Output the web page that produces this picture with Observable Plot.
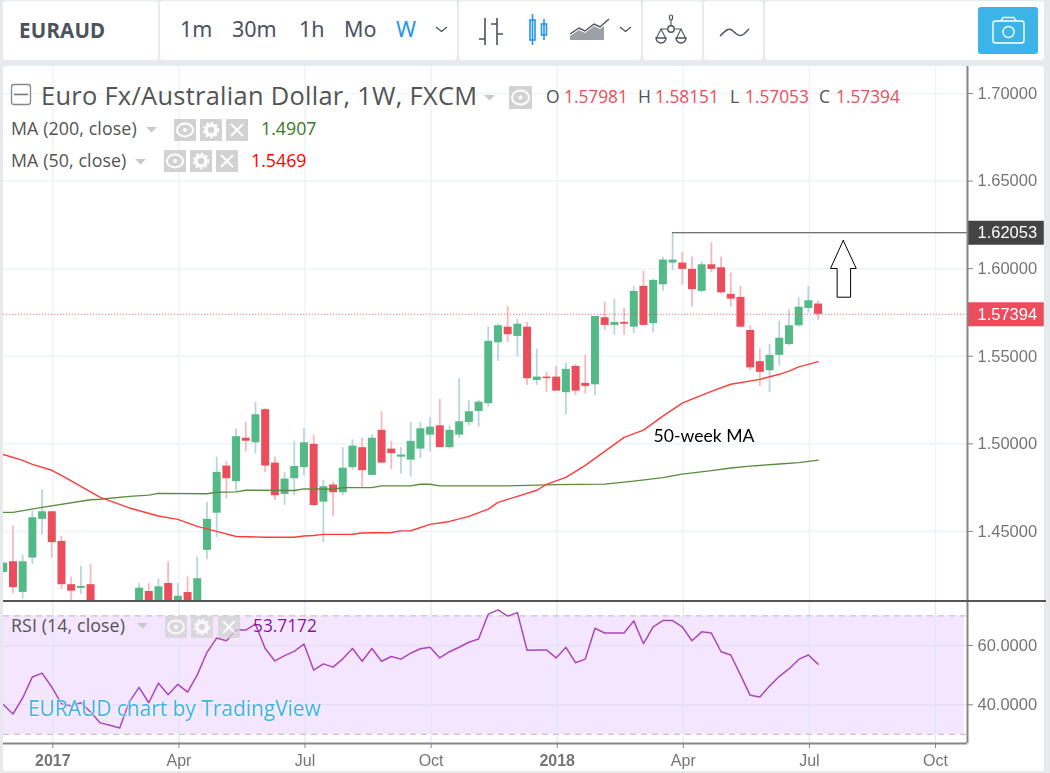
<!DOCTYPE html>
<html><head><meta charset="utf-8">
<script src="https://cdn.jsdelivr.net/npm/d3@7"></script>
<script src="https://cdn.jsdelivr.net/npm/@observablehq/plot@0.6"></script>
<style>
html,body{margin:0;padding:0;width:1050px;height:773px;overflow:hidden;background:#e6eaed}
#page{position:relative;width:1050px;height:773px;font-family:"Open Sans",sans-serif;overflow:hidden}
.panel{position:absolute;background:#fff;border-radius:3px}
.t{position:absolute;white-space:nowrap;line-height:1}
.box{position:absolute;background:#d2d2d2}
.plot{position:absolute;left:0}
#page svg{display:block}
.ic{position:absolute;overflow:visible}
.blur{filter:blur(0.35px)}
</style></head><body>
<div id="page"></div>
<script>
// ---- values ----
const candleWeeks = [-5,-4,-3,-2,-1,0,1,2,3,4,9,10,11,12,13,14,15,16,17,18,19,20,21,22,23,24,25,26,27,28,29,30,31,32,33,34,35,36,37,38,39,40,41,42,43,44,45,46,47,48,49,50,51,52,53,54,55,56,57,58,59,60,61,62,63,64,65,66,67,68,69,70,71,72,73,74,75,76,77,78,79];
const opens = [1.4266,1.4327,1.4152,1.4348,1.4569,1.4612,1.4443,1.4196,1.4175,1.4196,
 1.4060,1.4157,1.4060,1.4203,1.4070,1.4151,1.4050,1.4392,1.4604,1.4873,1.4784,1.5032,1.5006,1.5195,1.4890,1.4711,1.4801,1.4864,1.4997,1.4667,
 1.4765,1.4721,1.4864,1.4978,1.4820,1.5077,1.4970,1.4924,1.4907,1.4970,1.5050,1.5103,1.4978,1.5050,1.5122,1.5185,1.5229,1.5577,1.5666,1.5613,
 1.5666,1.5362,1.5381,1.5381,1.5292,1.5442,1.5345,1.5337,1.5720,1.5676,1.5693,1.5666,1.5899,1.5686,1.5908,1.6032,1.6032,1.5996,1.5870,1.6022,
 1.6005,1.5853,1.5836,1.5647,1.5469,1.5417,1.5505,1.5567,1.5674,1.5773,1.57981];
const closes = [1.4319,1.4179,1.4327,1.4578,1.4612,1.4436,1.4196,1.4159,1.4186,1.4049,
 1.4176,1.4050,1.4184,1.4060,1.4130,1.4060,1.4230,1.4569,1.4837,1.4801,1.5041,1.5015,1.5166,1.4873,1.4704,1.4799,1.4871,1.5006,1.4648,1.4755,
 1.4721,1.4861,1.4987,1.4847,1.5032,1.4890,1.4944,1.4936,1.5014,1.5086,1.5095,1.4979,1.5077,1.5126,1.5183,1.5238,1.5585,1.5674,1.5623,1.5683,
 1.5372,1.5381,1.5372,1.5301,1.5425,1.5301,1.5328,1.5727,1.5676,1.5693,1.5683,1.5870,1.5676,1.5933,1.6049,1.6049,1.5996,1.5880,1.6022,1.5996,
 1.5862,1.5826,1.5666,1.5434,1.5408,1.5505,1.5603,1.5674,1.5780,1.5817,1.57394];
const highs = [1.4325,1.4533,1.4365,1.4616,1.4738,1.4615,1.4471,1.4239,1.4300,1.4312,
 1.4203,1.4203,1.4230,1.4327,1.4203,1.4239,1.4353,1.4667,1.4924,1.4900,1.5086,1.5122,1.5238,1.5202,1.4924,1.4835,1.5014,1.5086,1.5050,1.4791,
 1.4782,1.4978,1.5023,1.5032,1.5050,1.5183,1.5014,1.4978,1.5122,1.5122,1.5149,1.5253,1.5103,1.5373,1.5246,1.5248,1.5666,1.5686,1.5784,1.5710,
 1.5693,1.5541,1.5408,1.5442,1.5461,1.5452,1.5506,1.5727,1.5809,1.5826,1.5773,1.5899,1.5986,1.5939,1.6066,1.62053,1.6093,1.6066,1.6040,1.6148,
 1.6066,1.5975,1.5899,1.5674,1.5541,1.5567,1.5700,1.5765,1.5834,1.5899,1.58151];
const lows = [1.4260,1.4144,1.4114,1.4312,1.4479,1.4348,1.4167,1.4078,1.4141,1.4020,
 1.4030,1.4020,1.4040,1.4040,1.4050,1.4040,1.4030,1.4338,1.4464,1.4684,1.4730,1.4953,1.4944,1.4835,1.4677,1.4648,1.4704,1.4818,1.4645,1.4436,
 1.4587,1.4704,1.4847,1.4747,1.4817,1.4888,1.4853,1.4827,1.4810,1.4917,1.4953,1.4976,1.4970,1.5032,1.5103,1.5095,1.5210,1.5470,1.5577,1.5495,
 1.5333,1.5333,1.5293,1.5299,1.5166,1.5275,1.5284,1.5275,1.5647,1.5621,1.5621,1.5630,1.5673,1.5632,1.5872,1.5990,1.5906,1.5781,1.5862,1.5977,
 1.5853,1.5781,1.5664,1.5417,1.5328,1.5292,1.5444,1.5558,1.5666,1.5746,1.57053];

const ma50Weeks = [-5,-3,-2,0,1,3,5,8,11,13,15,17,19,22,25,26,27,28,31,32,35,36,37,39,41,43,45,46,48,50,51,53,55,57,59,61,63,65,66,68,70,73,75,76,77,78,79];
const ma50 = [1.4939,1.4906,1.4883,1.4849,1.4820,1.4757,1.4694,1.4634,1.4588,1.4569,1.4529,1.4500,1.4471,1.4467,1.4467,1.4474,1.4477,1.4483,1.4484,1.4491,1.4494,1.4503,1.4504,1.4540,1.4557,1.4586,1.4627,1.4666,1.4700,1.4735,1.4769,1.4809,1.4877,1.4957,1.5037,1.5078,1.5158,1.5232,1.5255,1.5300,1.5340,1.5368,1.5397,1.5415,1.5439,1.5454,1.5469];
const ma200Weeks = [-5,-4,-1,4,5,8,10,11,16,17,19,20,25,26,29,30,33,34,37,38,39,40,47,52,57,60,63,65,68,70,72,75,77,79];
const ma200 = [1.4609,1.4609,1.4637,1.4681,1.4684,1.4700,1.4707,1.4717,1.4715,1.4724,1.4726,1.4735,1.4734,1.4743,1.4741,1.4750,1.4750,1.4760,1.4760,1.4769,1.4769,1.4760,1.4760,1.4767,1.4770,1.4787,1.4807,1.4827,1.4847,1.4862,1.4873,1.4885,1.4893,1.4907];

const rsiFirstWeek = -5;
const rsi = [40.1,36.9,42.3,49.4,50.7,46.0,40.4,39.6,40.7,37.6,33.9,33.1,32.2,41.0,45.9,40.7,47.3,43.4,46.9,44.3,50.1,57.7,62.5,61.6,65.2,65.2,67.2,59.0,54.8,56.6,58.0,60.5,51.7,53.8,52.7,55.5,59.0,54.7,59.0,54.7,56.3,55.4,57.4,58.9,59.4,55.8,57.9,59.4,61.1,62.2,70.6,72.0,69.9,71.1,58.4,58.5,58.5,55.8,59.4,54.2,55.4,65.8,64.2,64.2,64.2,68.3,60.6,66.3,68.4,68.4,66.3,61.6,64.6,64.2,57.9,56.8,50.1,43.2,42.6,46.3,49.6,52.1,55.3,56.8,53.7172];

const priceTicks = [1.70,1.65,1.60,1.55,1.50,1.45];
const rsiTicks = [60,40];
const timeTicks = ["2017-01-02","2017-04-03","2017-07-03","2017-10-02","2018-01-01","2018-04-02","2018-07-02","2018-10-01"].map(d=>new Date(d+"T00:00Z"));
const timeLabels = ["2017","Apr","Jul","Oct","2018","Apr","Jul","Oct"];
const highLevel = 1.62053, lastClose = 1.57394;
const highLevelWeek = 64;
const arrowDates = ["2018-07-26T10:00Z","2018-08-04T19:00Z","2018-07-31T17:00Z","2018-07-31T17:00Z","2018-07-22T00:00Z","2018-07-22T00:00Z","2018-07-17T05:00Z","2018-07-26T10:00Z"].map(d=>new Date(d));
const arrowPrices = [1.6161,1.6001,1.6001,1.5837,1.5837,1.6001,1.6001,1.6161];

// ---- helpers ----
const barDate = w => new Date(Date.UTC(2017,0,1,6) + w*7*864e5);
const xDomain = [new Date("2016-11-27T10:00Z"), new Date("2018-10-24T02:00Z")];
const labelEnd = new Date("2018-12-18T12:00Z");
const candles = candleWeeks.map((w,i)=>({date:barDate(w),open:opens[i],close:closes[i],high:highs[i],low:lows[i]}));
const up = d => d.close >= d.open;
const GREEN="#53b987", RED="#eb4d5c", WGREEN="#b9d5dc", WRED="#fab7be", GRID="#eef3f7", AXIS="#868686", TXT="#757575";
const axisFont = "'Liberation Sans',Arial,sans-serif";

const page = document.getElementById("page");
function add(html){const d=document.createElement("div");d.innerHTML=html;while(d.firstChild)page.appendChild(d.firstChild);}
function panel(x,y,w,h){add(`<div class="panel" style="left:${x}px;top:${y}px;width:${w}px;height:${h}px"></div>`);}
function txt(s,x,y,size,color,extra=""){add(`<div class="t" style="left:${x}px;top:${y}px;font-size:${size}px;color:${color};${extra}">${s}</div>`);}

// ---- toolbar ----
panel(3,1,155,59);panel(160,1,297,59);panel(459,1,182,59);panel(643,1,59,59);panel(704,1,59,59);panel(765,1,279,59);panel(3,66,1041,705);
const tbFont="font-family:'Noto Sans','Open Sans',sans-serif;";
txt("EURAUD",19,20,20.5,"#4c525e",tbFont+"font-weight:700;letter-spacing:.2px");
txt("1m",180,18,21.5,"#4c525e",tbFont);
txt("30m",232,18,21.5,"#4c525e",tbFont);
txt("1h",299,18,21.5,"#4c525e",tbFont);
txt("Mo",344,18,21.5,"#4c525e",tbFont);
txt("W",396,18,21.5,"#2196f3",tbFont);
const S='#4c525e';
add(`<svg class="ic" style="left:0;top:0" width="1050" height="66" fill="none">
<path d="M436 27l5.5 4.5 5.5-4.5M620 27l5.5 4.5 5.5-4.5" stroke="${S}" stroke-width="1.3"/>
<path d="M485 18v27M485 39h-6M485 27h0M497 18v27M497 24h-6M497 34h6" stroke="${S}" stroke-width="1.6"/>
<rect x="530" y="20" width="5" height="20" stroke="#2196f3" stroke-width="1.6"/><path d="M532.5 14v31" stroke="#2196f3" stroke-width="1.6"/>
<rect x="541.5" y="24" width="5" height="11" stroke="#2196f3" stroke-width="1.6"/><path d="M544 19v21" stroke="#2196f3" stroke-width="1.6"/>
<path d="M570 34l9-6 6 3 9-7 6 3 0 0 9-8" stroke="${S}" stroke-width="1.4"/>
<path d="M570 40v-4l9-6 6 3 9-7 6 3 0 0 0 0 0 0 4-3v14z" fill="${S}" opacity=".55"/>
<circle cx="671" cy="29" r="3.2" stroke="${S}" stroke-width="1.4"/><path d="M671 26v-7M667.5 29h-7M674.5 29h7M661 29l-4.5 9M661 29l4.5 9M681 29l-4.5 9M681 29l4.5 9" stroke="${S}" stroke-width="1.1"/>
<path d="M656 38h10a5 5 0 0 1-10 0zM676 38h10a5 5 0 0 1-10 0z" stroke="${S}" stroke-width="1.4"/><rect x="669.5" y="15" width="3" height="5" rx="1.5" stroke="${S}" stroke-width="1.2"/>
<path d="M720 36c6-6 9-9 13-5s7 6 11 3l5-5" stroke="${S}" stroke-width="1.5"/>
<rect x="978" y="7" width="60" height="47" rx="3" fill="#3db4e7"/>
<rect x="993" y="21" width="31" height="22" rx="2.5" stroke="#fff" stroke-width="1.4"/><path d="M1001 21l2-3.5h11l2 3.5" stroke="#fff" stroke-width="1.4"/><circle cx="1008.5" cy="32" r="5.5" stroke="#fff" stroke-width="1.4"/>
</svg>`);

// ---- price pane ----
const pricePlot = Plot.plot({
  width:1050,height:535,marginLeft:3,marginRight:83,marginTop:0,marginBottom:0,
  style:{background:"transparent",fontFamily:axisFont,overflow:"hidden"},
  x:{type:"utc",domain:xDomain,axis:null},
  y:{domain:[1.41,1.7154],axis:null},
  marks:[
    Plot.gridX(timeTicks,{stroke:GRID,strokeOpacity:1,strokeWidth:1.5}),
    Plot.gridY(priceTicks,{stroke:GRID,strokeOpacity:1,strokeWidth:1.5}),
    Plot.ruleX(candles,{x:"date",y1:"low",y2:"high",stroke:d=>up(d)?WGREEN:WRED,strokeWidth:1.8,clip:true}),
    Plot.ruleX(candles,{x:"date",y1:"open",y2:"close",stroke:d=>up(d)?GREEN:RED,strokeWidth:8,clip:true}),
    Plot.ruleY([lastClose],{stroke:RED,strokeOpacity:.6,strokeWidth:1.2,strokeDasharray:"1.2,1.8"}),
    Plot.ruleY([highLevel],{x1:barDate(highLevelWeek),x2:xDomain[1],stroke:"#444",strokeWidth:1.1}),
    Plot.line(ma200Weeks.map((w,i)=>({date:barDate(w),v:ma200[i]})),{x:"date",y:"v",stroke:"#5b8c3e",strokeWidth:1.4,clip:true}),
    Plot.line(ma50Weeks.map((w,i)=>({date:barDate(w),v:ma50[i]})),{x:"date",y:"v",stroke:"#ff3b3b",strokeWidth:1.4,clip:true}),
    Plot.line(arrowDates.map((d,i)=>({date:d,v:arrowPrices[i]})),{x:"date",y:"v",stroke:"#000",strokeWidth:1,fill:"#fff"}),
    Plot.text(["50-week MA"],{x:[new Date("2018-03-11T12:00Z")],y:[1.5045],text:d=>d,textAnchor:"start",fill:"#000",fontSize:17.6,fontFamily:"Lato,sans-serif"}),
    Plot.axisY(priceTicks,{anchor:"right",tickSize:5,tickPadding:5,tickFormat:d3.format(".5f"),label:null,stroke:AXIS,fill:TXT,fontSize:16.5}),
    Plot.ruleY([highLevel],{x1:xDomain[1],x2:labelEnd,stroke:"#444",strokeWidth:24}),
    Plot.ruleY([lastClose],{x1:xDomain[1],x2:labelEnd,stroke:RED,strokeWidth:24}),
    Plot.text([highLevel,lastClose],{x:xDomain[1],y:d=>d,text:d3.format(".5f"),textAnchor:"start",dx:10,fill:"#fff",fontSize:16.5}),
    Plot.ruleX([xDomain[1]],{stroke:AXIS,strokeWidth:2})
  ]
});
pricePlot.classList.add("plot","blur");pricePlot.style.top="66px";page.appendChild(pricePlot);

// ---- RSI pane ----
const rsiPlot = Plot.plot({
  width:1050,height:171,marginLeft:3,marginRight:83,marginTop:0,marginBottom:30,
  style:{background:"transparent",fontFamily:axisFont},
  x:{type:"utc",domain:xDomain,axis:null},
  y:{domain:[26.95,74.5],axis:null},
  marks:[
    Plot.rect([0],{x1:xDomain[0],x2:new Date("2018-10-22T00:00Z"),y1:30,y2:70,fill:"#f4e6fe"}),
    Plot.gridX(timeTicks,{stroke:"#e3e6f6",strokeOpacity:1,strokeWidth:1.3}),
    Plot.gridY(rsiTicks,{stroke:"#e8def6",strokeOpacity:1,strokeWidth:1.5}),
    Plot.ruleY([70,30],{stroke:"#c9c2cd",strokeWidth:1.3,strokeDasharray:"6,5"}),
    Plot.line(rsi.map((v,i)=>({date:barDate(rsiFirstWeek+i),v})),{x:"date",y:"v",stroke:"#ab47bc",strokeWidth:1.5,clip:true}),
    Plot.axisY(rsiTicks,{anchor:"right",tickSize:5,tickPadding:5,tickFormat:d3.format(".4f"),label:null,stroke:AXIS,fill:TXT,fontSize:16.5}),
    Plot.axisX(timeTicks.filter((d,i)=>i%4),{anchor:"bottom",tickSize:5,tickPadding:6,tickFormat:d=>timeLabels[timeTicks.findIndex(t=>+t===+d)],label:null,stroke:AXIS,fill:TXT,fontSize:16}),
    Plot.axisX(timeTicks.filter((d,i)=>!(i%4)),{anchor:"bottom",tickSize:5,tickPadding:6,tickFormat:d=>timeLabels[timeTicks.findIndex(t=>+t===+d)],label:null,stroke:AXIS,fill:TXT,fontSize:16,fontWeight:"bold"}),
    Plot.ruleY([26.95],{stroke:AXIS,strokeWidth:2}),
    Plot.ruleX([xDomain[1]],{stroke:AXIS,strokeWidth:2})
  ]
});
rsiPlot.classList.add("plot","blur");rsiPlot.style.top="602px";page.appendChild(rsiPlot);

// separator between panes
add(`<div style="position:absolute;left:3px;top:600px;width:1043px;height:2px;background:#555"></div>`);

// ---- legends over the panes ----
function ctrls(xs,y,size,op=1){
  const [a,b,c]=xs,h=size/2,r=size;
  let s=`<svg class="ic" style="left:0;top:0;opacity:${op}" width="1050" height="773" fill="none">`;
  s+=`<rect x="${a}" y="${y}" width="${r}" height="${r}" fill="#d2d2d2"/><ellipse cx="${a+h}" cy="${y+h}" rx="${h-3}" ry="${h-4.5}" stroke="#fff" stroke-width="2"/><circle cx="${a+h}" cy="${y+h}" r="2" fill="#fff"/>`;
  if(b!==undefined){s+=`<rect x="${b}" y="${y}" width="${r}" height="${r}" fill="#d2d2d2"/><circle cx="${b+h}" cy="${y+h}" r="${h-6}" stroke="#fff" stroke-width="3.5"/><circle cx="${b+h}" cy="${y+h}" r="${h-3.5}" stroke="#fff" stroke-width="1.5" stroke-dasharray="2.5,2.5"/>`;
  s+=`<rect x="${c}" y="${y}" width="${r}" height="${r}" fill="#d2d2d2"/><path d="M${c+5} ${y+5}L${c+r-5} ${y+r-5}M${c+r-5} ${y+5}L${c+5} ${y+r-5}" stroke="#fff" stroke-width="2"/>`;}
  return s+`</svg>`;
}
const tri=(x,y,w)=>`<svg class="ic" style="left:0;top:0" width="1050" height="773"><path d="M${x} ${y}h${w}l-${w/2} 5.5z" fill="#c9c9c9"/></svg>`;
const lg="font-family:'Open Sans',sans-serif;";
add(`<svg class="ic" style="left:0;top:0" width="60" height="120" fill="none"><rect x="11.5" y="84.5" width="19" height="20" rx="2.5" stroke="#888" stroke-width="1.3"/><path d="M14 94.5h14" stroke="#777" stroke-width="1.5"/></svg>`);
txt("Euro Fx/Australian Dollar, 1W, FXCM",41,83,25.4,"#535353",lg+"letter-spacing:.3px");
add(tri(484,95,11));add(ctrls([509],86,23));
const ohlc="letter-spacing:.1px;";
txt("O",546,88,17.5,"#535353",lg);txt("1.57981",564,88,17.3,RED,lg);
txt("H",638,88,17.5,"#535353",lg);txt("1.58151",655,88,17.3,RED,lg);
txt("L",730,88,17.5,"#535353",lg);txt("1.57053",745,88,17.3,RED,lg);
txt("C",819,88,17.5,"#535353",lg);txt("1.57394",836,88,17.3,RED,lg);
txt("MA (200, close)",11,120,17.8,"#535353",lg+"letter-spacing:.1px");add(tri(146,127,11));add(ctrls([174,200,226],119,22));txt("1.4907",261,120,17.8,"#38781f",lg);
txt("MA (50, close)",11,152,17.8,"#535353",lg+"letter-spacing:.1px");add(tri(135,159,11));add(ctrls([164,190,216],150,22));txt("1.5469",251,152,17.8,"#ff0000",lg);
txt("RSI (14, close)",11,617,17.8,"#535353",lg+"letter-spacing:.1px");add(tri(137,623,11));add(ctrls([165,191,218],616,22,.75));txt("53.7172",253,617,17.3,"#8e1599",lg);
txt("EURAUD chart by TradingView",28,698,20.9,"#3fb3e6",lg+"text-shadow:0 0 2px #fff,0 0 2px #fff");
</script>
</body></html>
